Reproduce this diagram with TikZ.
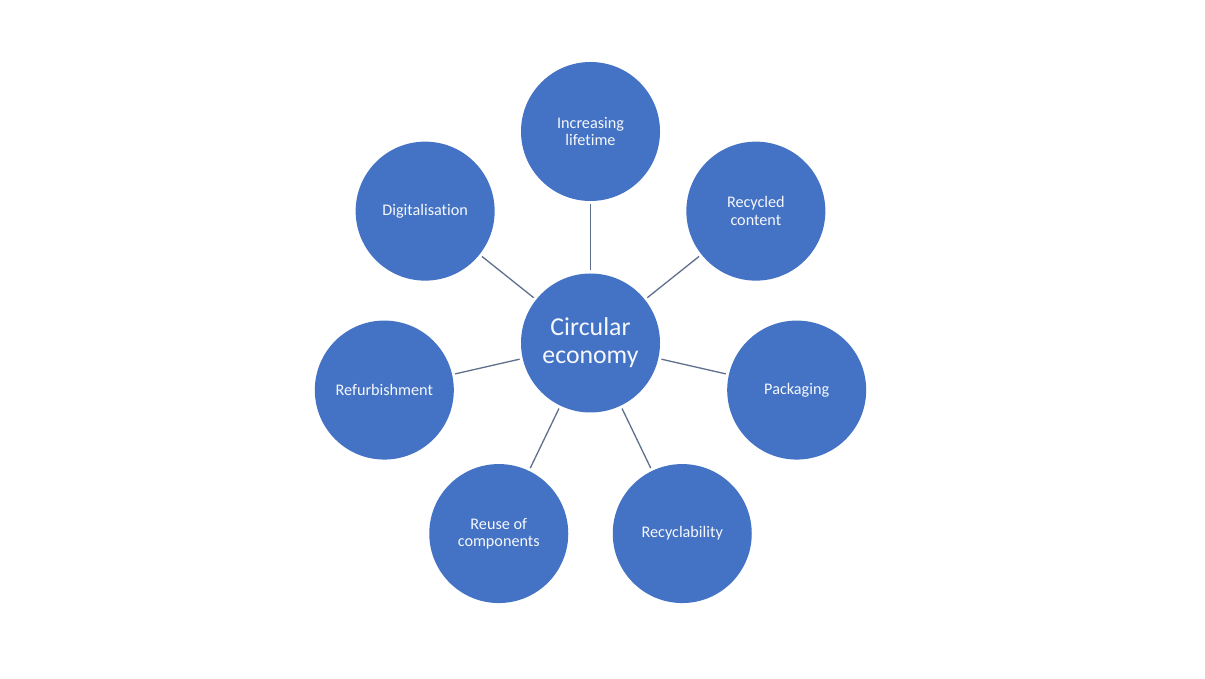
\documentclass[tikz,border=0pt]{standalone}
\usepackage{fontspec}
\setmainfont[Ligatures=NoCommon]{Carlito}
\usetikzlibrary{calc}
\definecolor{circfill}{RGB}{68,114,196}
\definecolor{linkcol}{RGB}{95,112,140}
\definecolor{txtcol}{RGB}{245,248,252}
\tikzset{
  bubble/.style={circle, fill=circfill, minimum size=139pt, inner sep=0pt, align=center,
    text=txtcol, font=\fontsize{16.2}{17.5}\selectfont},
  hub/.style={bubble, font=\fontsize{25.8}{28}\selectfont},
  link/.style={draw=linkcol, line width=1.3pt, shorten >=3pt, shorten <=3pt}
}
\begin{document}
\begin{tikzpicture}[x=1pt,y=1pt]
\useasboundingbox[fill=white] (0,0) rectangle (1205,678);
\coordinate (O) at (590.5,335);
\node[hub] (c) at (O) {Circular\\economy};
\node[bubble] (n1) at ($(O)+(90:211.5)$) {Increasing\\lifetime};
\node[bubble] (n2) at ($(O)+(38.57:211.5)$) {Recycled\\content};
\node[bubble] (n3) at ($(O)+(-12.86:211.5)$) {Packaging};
\node[bubble] (n4) at ($(O)+(-64.29:211.5)$) {Recyclability};
\node[bubble] (n5) at ($(O)+(-115.71:211.5)$) {Reuse of\\components};
\node[bubble] (n6) at ($(O)+(-167.14:211.5)$) {Refurbishment};
\node[bubble] (n7) at ($(O)+(141.43:211.5)$) {Digitalisation};
\foreach \i in {1,...,7} \draw[link] (c) -- (n\i);
\end{tikzpicture}
\end{document}
